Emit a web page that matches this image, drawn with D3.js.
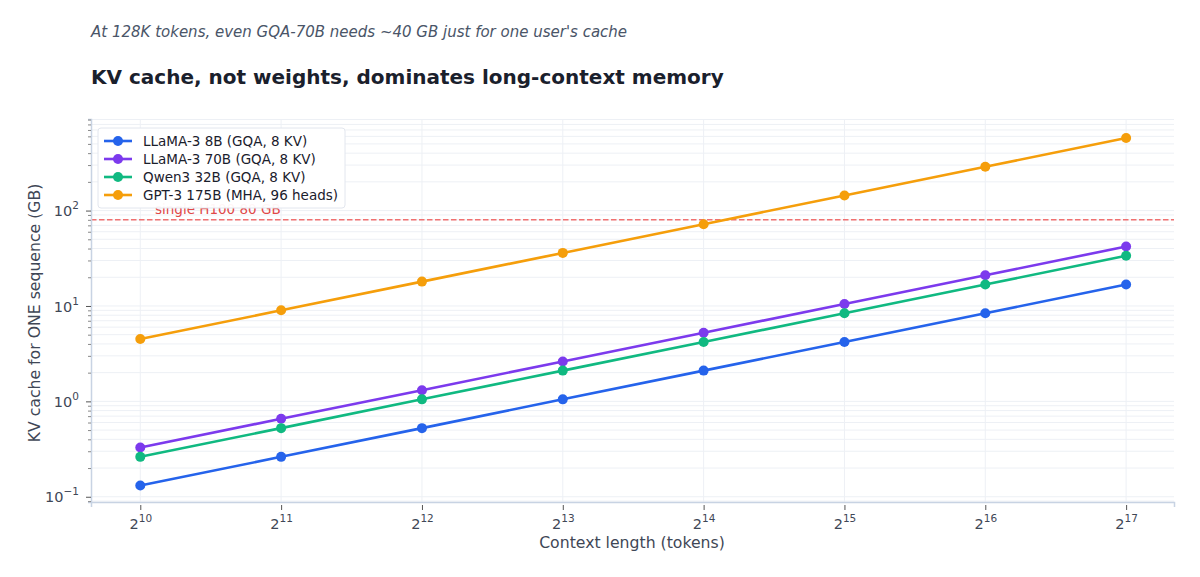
<!DOCTYPE html>
<html>
<head>
<meta charset="utf-8">
<script src="https://cdn.jsdelivr.net/npm/d3@7"></script>
<style>
  body { margin: 0; background: #fff; font-family: "DejaVu Sans", sans-serif; }
  svg text { font-family: "DejaVu Sans", sans-serif; }
</style>
</head>
<body>
<svg id="chart" width="1200" height="577"></svg>
<script>
// data
const exponents = [10, 11, 12, 13, 14, 15, 16, 17];
const seriesNames = ["LLaMA-3 8B (GQA, 8 KV)", "LLaMA-3 70B (GQA, 8 KV)", "Qwen3 32B (GQA, 8 KV)", "GPT-3 175B (MHA, 96 heads)"];
const llama8b = [0.131, 0.262, 0.524, 1.05, 2.10, 4.19, 8.39, 16.8];
const llama70b = [0.328, 0.656, 1.31, 2.62, 5.24, 10.5, 21.0, 42.0];
const qwen32b = [0.262, 0.524, 1.05, 2.10, 4.19, 8.39, 16.8, 33.6];
const gpt3 = [4.5, 9, 18, 36, 72, 144, 288, 576];
const h100Limit = 80;
const yTickExps = [-1, 0, 1, 2];

const colors = ["#2563eb", "#7c3aed", "#10b981", "#f59e0b"];
const allSeries = [llama8b, llama70b, qwen32b, gpt3];

const margin = {top: 119, right: 26, bottom: 75, left: 91};
const width = 1200, height = 577;

const svg = d3.select("#chart");

svg.append("text")
  .attr("x", 91).attr("y", 37)
  .attr("font-size", 15).attr("font-style", "italic")
  .attr("fill", "#4a5568")
  .text("At 128K tokens, even GQA-70B needs ~40 GB just for one user's cache");

svg.append("text")
  .attr("x", 91).attr("y", 84)
  .attr("font-size", 20).attr("font-weight", "bold")
  .attr("fill", "#1a202c")
  .text("KV cache, not weights, dominates long-context memory");

const x = d3.scaleLinear()
  .domain([9.65, 17.34])
  .range([margin.left, width - margin.right]);

const y = d3.scaleLog()
  .domain([Math.pow(10, -1.055), Math.pow(10, 2.96)])
  .range([height - margin.bottom, margin.top]);

// minor grid (horizontal)
const minorVals = [];
for (let e = -2; e <= 3; e++) {
  for (let m = 1; m <= 9; m++) {
    const v = m * Math.pow(10, e);
    if (v >= y.domain()[0] && v <= y.domain()[1]) minorVals.push(v);
  }
}
svg.append("g").selectAll("line")
  .data(minorVals)
  .join("line")
    .attr("x1", margin.left).attr("x2", width - margin.right)
    .attr("y1", d => y(d)).attr("y2", d => y(d))
    .attr("stroke", "#edf0f5").attr("stroke-width", 1);

// vertical grid
svg.append("g").selectAll("line")
  .data(exponents)
  .join("line")
    .attr("x1", d => x(d)).attr("x2", d => x(d))
    .attr("y1", margin.top).attr("y2", height - margin.bottom)
    .attr("stroke", "#edf0f5").attr("stroke-width", 1);

// H100 line
svg.append("line")
  .attr("x1", margin.left).attr("x2", width - margin.right)
  .attr("y1", y(h100Limit)).attr("y2", y(h100Limit))
  .attr("stroke", "#ef4444").attr("stroke-opacity", 0.75).attr("stroke-width", 1.5)
  .attr("stroke-dasharray", "5.5,2.5");

svg.append("text")
  .attr("x", 155).attr("y", y(h100Limit) - 6)
  .attr("font-size", 13.5).attr("fill", "#e04848")
  .text("single H100 80 GB");

// axes
const axisColor = "#c8d3e3";
const xAxis = svg.append("g")
  .attr("transform", `translate(0,${height - margin.bottom})`)
  .call(d3.axisBottom(x).tickValues(exponents).tickSize(5).tickFormat(""));
xAxis.select(".domain").attr("stroke", axisColor).attr("stroke-width", 1.5);
xAxis.selectAll(".tick line").attr("stroke", "#555").attr("transform", "translate(0,3)");
xAxis.selectAll(".tick").append("text")
  .attr("y", 27).attr("fill", "#3f4756").attr("font-size", 14.5)
  .attr("text-anchor", "middle")
  .html(d => `2<tspan dy="-7" font-size="10.5">${d}</tspan>`);

const yAxis = svg.append("g")
  .attr("transform", `translate(${margin.left},0)`)
  .call(d3.axisLeft(y).tickValues(minorVals).tickSize(3).tickFormat(""));
yAxis.select(".domain").attr("stroke", axisColor).attr("stroke-width", 1.5);
yAxis.selectAll(".tick line").attr("stroke", "#888");
yAxis.selectAll(".tick")
  .filter(d => yTickExps.some(e => Math.abs(d - Math.pow(10, e)) < 1e-9))
  .each(function(d) {
    const g = d3.select(this);
    g.select("line").attr("x2", -5).attr("stroke", "#555");
    const e = Math.round(Math.log10(d));
    g.append("text")
      .attr("x", -12).attr("dy", "0.35em")
      .attr("fill", "#3f4756").attr("font-size", 14.5)
      .attr("text-anchor", "end")
      .html(`10<tspan dy="-7" font-size="10.5">${e < 0 ? "\u22121" : e}</tspan>`);
  });

svg.append("text")
  .attr("x", 632).attr("y", 548)
  .attr("text-anchor", "middle").attr("font-size", 15.7).attr("fill", "#3f4756")
  .text("Context length (tokens)");

svg.append("text")
  .attr("transform", `translate(40,313) rotate(-90)`)
  .attr("text-anchor", "middle").attr("font-size", 15.7).attr("fill", "#3f4756")
  .text("KV cache for ONE sequence (GB)");

// lines
const line = d3.line()
  .x((d, i) => x(exponents[i]))
  .y(d => y(d));

allSeries.forEach((vals, k) => {
  svg.append("path")
    .datum(vals)
    .attr("fill", "none")
    .attr("stroke", colors[k])
    .attr("stroke-width", 2.6)
    .attr("d", line);
  svg.append("g").selectAll("circle")
    .data(vals)
    .join("circle")
      .attr("cx", (d, i) => x(exponents[i]))
      .attr("cy", d => y(d))
      .attr("r", 5)
      .attr("fill", colors[k]);
});

// legend
const legend = svg.append("g").attr("transform", "translate(98,128)");
legend.append("rect")
  .attr("width", 247).attr("height", 80).attr("rx", 3)
  .attr("fill", "#fff").attr("fill-opacity", 0.95)
  .attr("stroke", "#e2e6ee");
seriesNames.forEach((name, i) => {
  const row = legend.append("g").attr("transform", `translate(0,${13 + i * 18})`);
  row.append("line").attr("x1", 6).attr("x2", 34)
    .attr("stroke", colors[i]).attr("stroke-width", 2.6);
  row.append("circle").attr("cx", 20).attr("r", 5).attr("fill", colors[i]);
  row.append("text").attr("x", 45).attr("dy", "0.35em")
    .attr("font-size", 13.5).attr("fill", "#1a202c").text(name);
});
</script>
</body>
</html>
